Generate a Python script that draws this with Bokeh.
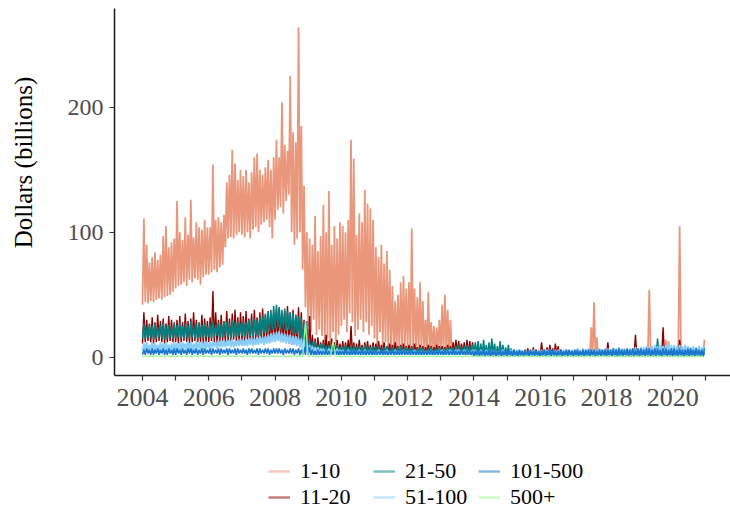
import math
from bokeh.plotting import figure
from bokeh.models import Range1d, FixedTicker, Legend, LegendItem, Label
from bokeh.embed import file_html
from bokeh.resources import INLINE

FONT = "Liberation Serif"
START_YEAR = 2004
NAN = float("nan")

series_names = ["1-10", "11-20", "21-50", "51-100", "101-500", "500+"]
series_colors = ["#E9967A", "#8B0000", "#008080", "#87CEFA", "#1874CD", "#98FB98"]

x_ticks = list(range(2004, 2022))
y_ticks = [0, 100, 200]

# ---- 1-10 : monthly lows / highs (billions), 2004-2020 ----
lo_1_10 = [
    42, 44, 43, 45, 44, 46, 47, 46, 48, 49, 50, 52,
    55, 57, 58, 60, 57, 62, 60, 63, 62, 58, 64, 66,
    66, 68, 70, 68, 72, 74, 88, 95, 96, 95, 98, 100,
    98, 96, 100, 95, 102, 104, 100, 106, 108, 110, 104, 95,
    110, 118, 120, 115, 125, 130, 100, 90, 95, 100, 70, 40,
    25, 20, 30, 18, 22, 17, 10, 15, 8, 20, 12, 18,
    25, 30, 20, 35, 28, 17, 22, 30, 20, 28, 18, 25,
    15, 10, 20, 8, 12, 6, 8, 5, 3, 6, 5, 8,
    6, 5, 8, 5, 4, 6, 5, 4, 5, 4, 3, 4,
    4, 3, 4, 3, 2, 2, 2, 2, 2, 2, 2, 2,
    1, 1, 2, 1, 1, 2, 1, 1, 2, 1, 1, 1,
    1, 2, 1, 1, 1, 1, 2, 1, 1, 1, 2, 1,
    1, 1, 1, 2, 1, 1, 1, 2, 1, 1, 1, 1,
    2, 1, 1, 1, 1, 2, 1, 1, 1, 1, 1, 2,
    1, 1, 2, 1, 1, 1, 1, 2, 1, 1, 1, 1,
    1, 1, 1, 1, 2, 1, 1, 1, 1, 2, 1, 1,
    1, 2, 1, 1, 1, 1, 2, 1, 1, 1, 1, 1,
]
hi_1_10 = [
    111, 90, 76, 80, 84, 78, 82, 97, 105, 88, 92, 95,
    125, 100, 94, 112, 98, 126, 96, 108, 104, 102, 110, 104,
    104, 154, 110, 112, 108, 114, 140, 146, 166, 155, 142, 150,
    145, 150, 140, 148, 160, 163, 150, 146, 152, 158, 150, 160,
    174, 160, 204, 170, 165, 225, 180, 172, 264, 185, 137, 100,
    95, 90, 113, 85, 97, 122, 100, 133, 90, 105, 95, 108,
    105, 100, 110, 174, 159, 98, 115, 108, 134, 123, 119, 110,
    88, 80, 90, 75, 85, 70, 57, 45, 50, 60, 65, 55,
    60, 103, 55, 48, 60, 45, 30, 52, 28, 25, 24, 30,
    42, 50, 38, 30, 12, 8, 6, 10, 8, 5, 6, 5,
    5, 4, 6, 5, 4, 5, 6, 4, 5, 4, 5, 4,
    4, 5, 4, 3, 4, 5, 4, 3, 4, 5, 4, 3,
    4, 3, 4, 5, 4, 3, 4, 4, 3, 4, 5, 4,
    4, 3, 4, 5, 4, 4, 24, 44, 16, 5, 4, 3,
    4, 5, 4, 3, 5, 4, 4, 5, 4, 3, 4, 5,
    4, 5, 4, 54, 5, 4, 5, 4, 5, 14, 13, 5,
    5, 4, 105, 5, 4, 5, 4, 5, 4, 5, 6, 14,
]

# ---- 11-20 : monthly lows / highs ----
lo_11_20 = [
    11, 12, 13, 12, 11, 12, 13, 12, 11, 12, 13, 12,
    12, 11, 12, 13, 12, 11, 12, 13, 12, 12, 11, 12,
    12, 13, 12, 11, 12, 13, 12, 13, 12, 14, 13, 12,
    13, 12, 14, 13, 12, 14, 13, 12, 14, 13, 12, 14,
    14, 13, 15, 12, 12, 11, 10, 10, 9, 8, 6, 3,
    3, 2, 3, 2, 3, 2, 2, 3, 2, 3, 2, 2,
    2, 2, 3, 2, 2, 3, 2, 2, 2, 3, 2, 2,
    2, 3, 2, 2, 2, 3, 2, 2, 3, 2, 2, 2,
    2, 2, 2, 3, 2, 2, 2, 2, 3, 2, 2, 2,
    2, 2, 3, 2, 2, 2, 3, 2, 2, 2, 2, 2,
    1, 1, 1, 2, 1, 1, 1, 1, 2, 1, 1, 1,
    1, 1, 2, 1, 1, 1, 1, 2, 1, 1, 1, 1,
    1, 2, 1, 1, 1, 1, 2, 1, 1, 1, 1, 2,
    1, 1, 1, 1, 2, 1, 1, 1, 1, 2, 1, 1,
    1, 1, 2, 1, 1, 1, 1, 1, 2, 1, 1, 1,
    1, 2, 1, 1, 1, 2, 1, 1, 1, 1, 2, 1,
    1, 1, 1, 2, 1, 1, 1, 1, 1, 2, 1, 1,
]
hi_11_20 = [
    36, 30, 27, 32, 28, 34, 29, 31, 27, 33, 30, 28,
    30, 33, 28, 35, 29, 31, 36, 30, 28, 34, 31, 29,
    32, 53, 36, 30, 34, 29, 37, 31, 35, 38, 32, 36,
    33, 37, 31, 35, 38, 32, 36, 39, 34, 37, 33, 36,
    38, 40, 35, 37, 41, 36, 38, 34, 40, 36, 30, 22,
    33, 18, 15, 16, 12, 14, 18, 13, 15, 12, 14, 11,
    13, 12, 14, 25, 12, 11, 14, 10, 12, 13, 10, 12,
    11, 13, 10, 12, 9, 11, 10, 12, 9, 10, 11, 9,
    10, 9, 11, 8, 10, 9, 8, 10, 9, 8, 10, 9,
    9, 8, 10, 9, 12, 14, 13, 11, 12, 14, 13, 12,
    9, 7, 6, 5, 6, 5, 4, 5, 4, 5, 4, 4,
    4, 5, 4, 3, 4, 5, 4, 7, 5, 8, 6, 5,
    12, 6, 8, 10, 7, 11, 9, 6, 5, 4, 5, 4,
    4, 5, 4, 3, 4, 5, 4, 5, 6, 4, 5, 4,
    12, 5, 4, 5, 6, 5, 4, 6, 5, 7, 18, 6,
    6, 5, 7, 6, 5, 6, 8, 7, 24, 8, 6, 5,
    6, 5, 14, 6, 5, 6, 5, 4, 5, 6, 5, 4,
]

# ---- 21-50 : monthly lows / highs ----
lo_21_50 = [
    15, 14, 15, 16, 14, 15, 16, 15, 14, 15, 16, 15,
    15, 16, 15, 14, 16, 15, 16, 15, 14, 16, 15, 16,
    16, 15, 16, 17, 15, 16, 17, 16, 15, 17, 16, 17,
    17, 16, 18, 17, 16, 18, 17, 18, 19, 20, 21, 22,
    23, 24, 22, 23, 21, 22, 20, 19, 18, 16, 10, 5,
    2, 3, 2, 2, 3, 2, 2, 2, 2, 2, 2, 2,
    2, 2, 2, 2, 2, 2, 2, 2, 2, 2, 2, 2,
    2, 2, 2, 2, 2, 2, 2, 2, 2, 2, 2, 2,
    2, 2, 2, 2, 2, 2, 2, 2, 2, 2, 2, 2,
    2, 2, 2, 2, 2, 2, 2, 2, 2, 2, 2, 2,
    1, 2, 1, 1, 2, 1, 1, 2, 1, 1, 1, 1,
    1, 1, 1, 1, 1, 1, 1, 1, 1, 1, 1, 1,
    1, 1, 1, 1, 1, 1, 1, 1, 1, 1, 1, 1,
    1, 1, 1, 1, 1, 1, 1, 1, 1, 1, 1, 1,
    1, 1, 1, 1, 1, 1, 1, 1, 1, 1, 1, 1,
    1, 1, 1, 1, 1, 1, 1, 1, 1, 1, 1, 1,
    1, 1, 1, 1, 1, 1, 1, 1, 1, 1, 1, 1,
]
hi_21_50 = [
    27, 24, 26, 25, 27, 24, 26, 28, 25, 26, 24, 27,
    26, 28, 25, 27, 26, 29, 25, 27, 28, 26, 27, 25,
    27, 29, 26, 28, 27, 29, 28, 27, 30, 28, 29, 27,
    29, 28, 30, 29, 31, 30, 32, 33, 35, 36, 38, 41,
    42, 40, 38, 39, 37, 36, 35, 34, 33, 31, 26, 16,
    14, 12, 13, 10, 11, 12, 9, 10, 11, 9, 10, 8,
    9, 10, 8, 9, 10, 8, 9, 8, 10, 9, 8, 9,
    8, 9, 7, 8, 9, 7, 8, 7, 8, 9, 7, 8,
    7, 8, 6, 7, 8, 7, 6, 7, 8, 6, 7, 8,
    6, 7, 8, 7, 8, 9, 10, 8, 9, 10, 9, 10,
    12, 13, 11, 14, 10, 12, 15, 11, 9, 13, 10, 8,
    10, 7, 6, 5, 5, 4, 5, 4, 5, 4, 5, 4,
    4, 5, 4, 4, 5, 4, 4, 5, 4, 4, 5, 4,
    4, 4, 5, 4, 4, 5, 4, 4, 5, 4, 4, 5,
    5, 4, 4, 5, 4, 5, 4, 4, 5, 4, 5, 4,
    5, 4, 5, 6, 5, 6, 15, 6, 5, 6, 5, 4,
    5, 4, 5, 4, 5, 4, 5, 4, 4, 5, 4, 4,
]

# ---- 51-100 : monthly lows / highs ----
lo_51_100 = [
    5, 6, 5, 6, 5, 6, 5, 6, 5, 6, 6, 5,
    6, 5, 6, 7, 6, 6, 5, 6, 7, 6, 6, 7,
    7, 7, 8, 7, 8, 8, 8, 9, 8, 8, 9, 9,
    9, 9, 9, 10, 9, 10, 10, 11, 10, 11, 11, 12,
    12, 13, 12, 12, 11, 11, 10, 10, 9, 8, 5, 3,
    2, 2, 2, 2, 2, 2, 2, 2, 2, 2, 2, 2,
    2, 2, 2, 2, 2, 2, 2, 2, 2, 2, 2, 2,
    2, 2, 2, 2, 2, 2, 2, 2, 2, 2, 2, 2,
    2, 2, 2, 2, 2, 2, 2, 2, 2, 2, 2, 2,
    2, 2, 2, 2, 2, 2, 2, 2, 2, 2, 2, 2,
    1, 1, 1, 1, 1, 1, 1, 1, 1, 1, 1, 1,
    1, 1, 1, 1, 1, 1, 1, 1, 1, 1, 1, 1,
    1, 1, 1, 1, 1, 1, 1, 1, 1, 1, 1, 1,
    1, 1, 1, 1, 1, 1, 1, 1, 1, 1, 1, 1,
    1, 1, 1, 1, 1, 1, 1, 1, 1, 1, 1, 1,
    1, 1, 1, 1, 1, 1, 1, 1, 1, 1, 1, 1,
    1, 1, 1, 1, 1, 1, 1, 1, 1, 1, 1, 1,
]
hi_51_100 = [
    11, 12, 10, 12, 11, 10, 12, 11, 12, 10, 11, 12,
    11, 12, 12, 11, 13, 12, 11, 13, 12, 12, 13, 12,
    12, 13, 12, 14, 13, 14, 13, 14, 15, 13, 14, 15,
    14, 15, 15, 16, 15, 16, 17, 16, 17, 18, 19, 20,
    20, 21, 19, 19, 18, 18, 17, 17, 16, 15, 14, 12,
    10, 9, 8, 8, 7, 7, 6, 7, 6, 6, 7, 6,
    6, 5, 6, 5, 6, 5, 6, 5, 6, 5, 6, 5,
    5, 6, 5, 5, 6, 5, 5, 6, 5, 5, 6, 5,
    5, 5, 6, 5, 5, 6, 5, 5, 6, 5, 5, 6,
    6, 5, 6, 6, 5, 6, 6, 5, 6, 6, 5, 6,
    6, 5, 6, 5, 6, 6, 5, 6, 5, 6, 6, 5,
    5, 6, 5, 6, 6, 5, 6, 5, 6, 6, 5, 6,
    6, 5, 6, 6, 5, 6, 6, 5, 6, 6, 5, 6,
    6, 7, 6, 7, 6, 7, 6, 7, 6, 7, 6, 7,
    7, 6, 7, 7, 8, 7, 7, 6, 7, 7, 8, 7,
    8, 8, 9, 8, 9, 10, 9, 10, 9, 10, 11, 10,
    10, 9, 10, 9, 10, 9, 8, 9, 8, 9, 8, 9,
]

# ---- 101-500 : monthly lows / highs ----
lo_101_500 = [
    2, 2, 3, 2, 2, 3, 2, 3, 2, 2, 3, 2,
    2, 3, 2, 3, 2, 3, 2, 3, 2, 3, 2, 3,
    3, 2, 3, 3, 2, 3, 3, 2, 3, 3, 2, 3,
    3, 3, 2, 3, 3, 3, 2, 3, 3, 3, 2, 3,
    3, 3, 3, 2, 3, 3, 3, 2, 3, 2, 2, 2,
    2, 2, 2, 2, 2, 2, 2, 2, 2, 2, 2, 2,
    2, 2, 2, 2, 2, 2, 2, 2, 2, 2, 2, 2,
    2, 2, 2, 2, 2, 2, 2, 2, 2, 2, 2, 2,
    2, 2, 2, 2, 2, 2, 2, 2, 2, 2, 2, 2,
    2, 2, 2, 2, 2, 2, 2, 2, 2, 2, 2, 2,
    1, 1, 1, 1, 1, 1, 1, 1, 1, 1, 1, 1,
    1, 1, 1, 1, 1, 1, 1, 1, 1, 1, 1, 1,
    1, 1, 1, 1, 1, 1, 1, 1, 1, 1, 1, 1,
    1, 1, 1, 1, 1, 1, 1, 1, 1, 1, 1, 1,
    1, 1, 1, 1, 1, 1, 1, 1, 1, 1, 1, 1,
    1, 1, 1, 1, 1, 1, 1, 1, 1, 1, 1, 1,
    1, 1, 1, 1, 1, 1, 1, 1, 1, 1, 1, 1,
]
hi_101_500 = [
    6, 7, 6, 7, 6, 7, 6, 7, 6, 7, 6, 7,
    7, 6, 7, 6, 7, 7, 6, 7, 6, 7, 7, 6,
    7, 7, 6, 7, 7, 6, 7, 7, 6, 7, 7, 6,
    7, 6, 7, 7, 6, 7, 7, 6, 7, 7, 6, 7,
    7, 7, 6, 7, 6, 7, 7, 6, 7, 6, 8, 29,
    8, 6, 5, 6, 5, 5, 6, 5, 5, 6, 5, 5,
    5, 6, 5, 5, 6, 5, 5, 6, 5, 5, 6, 5,
    5, 5, 6, 5, 5, 5, 6, 5, 5, 5, 6, 5,
    5, 6, 5, 5, 5, 6, 5, 5, 6, 5, 5, 6,
    5, 5, 6, 5, 6, 5, 5, 6, 5, 6, 5, 5,
    5, 6, 5, 6, 5, 6, 5, 6, 5, 6, 5, 6,
    6, 5, 6, 5, 6, 5, 6, 5, 6, 5, 6, 5,
    5, 6, 5, 6, 6, 5, 5, 6, 5, 6, 6, 5,
    6, 6, 5, 6, 6, 6, 6, 6, 5, 6, 6, 6,
    6, 6, 7, 6, 7, 6, 6, 7, 6, 7, 6, 7,
    7, 6, 7, 7, 6, 7, 7, 6, 7, 7, 6, 7,
    7, 6, 7, 6, 6, 7, 7, 6, 7, 6, 6, 7,
]

# ---- 500+ : bimonthly lows / highs ----
lo_500 = [
    0.3, 0.4, 0.3, 0.4, 0.3, 0.4,
    0.3, 0.4, 0.3, 0.4, 0.3, 0.4,
    0.3, 0.4, 0.3, 0.4, 0.3, 0.4,
    0.3, 0.4, 0.3, 0.4, 0.3, 0.4,
    0.3, 0.4, 0.3, 0.4, 0.3, 0.4,
    0.3, 0.4, 0.3, 0.4, 0.3, 0.4,
    0.3, 0.4, 0.3, 0.4, 0.3, 0.4,
    0.3, 0.4, 0.3, 0.4, 0.3, 0.4,
    0.3, 0.4, 0.3, 0.4, 0.3, 0.4,
    0.3, 0.4, 0.3, 0.4, 0.3, 0.4,
    0.3, 0.4, 0.3, 0.4, 0.3, 0.4,
    0.3, 0.4, 0.3, 0.4, 0.3, 0.4,
    0.3, 0.4, 0.3, 0.4, 0.3, 0.4,
    0.3, 0.4, 0.3, 0.4, 0.3, 0.4,
    0.3, 0.4, 0.3, 0.4, 0.3, 0.4,
    0.3, 0.4, 0.3, 0.4, 0.3, 0.4,
    0.3, 0.4, 0.3, 0.4, 0.3, 0.4,
]
hi_500 = [
    1.2, 1.0, 1.3, 1.1, 1.2, 1.0,
    1.1, 1.3, 1.0, 1.2, 1.1, 1.2,
    1.0, 1.2, 1.1, 1.3, 1.0, 1.2,
    1.2, 1.1, 1.3, 1.0, 1.2, 1.1,
    1.1, 1.2, 1.0, 1.3, 1.1, 29,
    1.2, 1.0, 1.1, 1.2, 13, 1.1,
    1.0, 1.2, 1.1, 1.0, 1.2, 1.1,
    1.2, 1.0, 1.1, 1.2, 1.0, 1.1,
    1.1, 1.2, 1.0, 1.1, 1.2, 1.0,
    1.0, 1.1, 1.2, 1.0, 1.1, 1.2,
    1.2, 1.0, 1.1, 1.2, 1.0, 1.1,
    1.1, 1.2, 1.0, 1.1, 1.2, 1.0,
    1.0, 1.1, 1.2, 1.0, 1.1, 1.2,
    1.2, 1.0, 1.1, 1.2, 1.0, 1.1,
    1.1, 1.2, 1.0, 1.1, 1.2, 1.0,
    1.0, 1.1, 1.2, 1.0, 1.1, 1.2,
    1.2, 1.0, 1.1, 1.2, 1.0, 1.1,
]

series_lo = [lo_1_10, lo_11_20, lo_21_50, lo_51_100, lo_101_500, lo_500]
series_hi = [hi_1_10, hi_11_20, hi_21_50, hi_51_100, hi_101_500, hi_500]
series_per_year = [12, 12, 12, 12, 12, 6]
series_widths = [1.8, 1.4, 1.5, 1.8, 1.5, 1.3]

# The frame covers the whole canvas; axes sit at fixed data positions inside it,
# leaving room on the left for tick labels / title and at the bottom for the legend.
W, H = 730, 509
X_START, X_END = 1999.715, 2021.743
Y_TOP, Y_BOTTOM = 285.4, -121.8
AXIS_X = 2003.155      # where the y axis stands
AXIS_Y = -14.6         # where the x axis stands
AXIS_Y_TOP = 279.0     # top end of the y axis line


def zigzag(lo, hi, per_year):
    xs, ys = [], []
    for i, (a, b) in enumerate(zip(lo, hi)):
        xs += [START_YEAR + i / per_year, START_YEAR + (i + 0.5) / per_year]
        ys += [a, b]
    return xs, ys


p = figure(
    width=W, height=H, output_backend="svg", toolbar_location=None,
    x_range=Range1d(X_START, X_END), y_range=Range1d(Y_BOTTOM, Y_TOP),
    min_border_left=0, min_border_right=0, min_border_top=0, min_border_bottom=0,
)
p.outline_line_color = None
p.grid.visible = False
p.background_fill_color = "white"
p.border_fill_color = "white"

for lo, hi, per_year, color, lw in zip(series_lo, series_hi, series_per_year, series_colors, series_widths):
    xs, ys = zigzag(lo, hi, per_year)
    p.line(xs, ys, line_color=color, line_width=lw)

# axis lines (x axis from the y axis to the right edge, y axis from the x axis up)
p.segment(x0=[AXIS_X, AXIS_X], y0=[AXIS_Y, AXIS_Y], x1=[X_END, AXIS_X], y1=[AXIS_Y, AXIS_Y_TOP],
          line_color="#1a1a1a", line_width=1.5)

for ax in (p.xaxis[0], p.yaxis[0]):
    ax.axis_line_color = None
    ax.major_tick_line_color = "#333333"
    ax.major_tick_line_width = 1.2
    ax.major_tick_out = 5
    ax.major_tick_in = 0
    ax.minor_tick_line_color = None
    ax.major_label_text_font = FONT
    ax.major_label_text_color = "#4D4D4D"

xa = p.xaxis[0]
xa.fixed_location = AXIS_Y
xa.ticker = FixedTicker(ticks=x_ticks)
xa.major_label_overrides = {t: (str(t) if t % 2 == 0 else "") for t in x_ticks}
xa.major_label_text_font_size = "26px"
xa.major_label_standoff = 8

ya = p.yaxis[0]
ya.fixed_location = AXIS_X
ya.ticker = FixedTicker(ticks=y_ticks)
ya.major_label_text_font_size = "24px"
ya.major_label_standoff = 6

p.add_layout(Label(
    x=23, y=H - 162, x_units="screen", y_units="screen", text="Dollars (billions)",
    angle=math.pi / 2, text_align="center", text_baseline="middle",
    text_font=FONT, text_font_size="25px", text_color="black",
))

# legend: 3 columns x 2 rows in the strip under the x axis
dummy = [p.line([NAN], [NAN], line_color=c, line_alpha=0.5, line_width=2.5) for c in series_colors]
legend = Legend(
    items=[LegendItem(label=n, renderers=[r]) for n, r in zip(series_names, dummy)],
    location=(268, -1), orientation="vertical", nrows=2,
    padding=0, margin=0, spacing=0, label_standoff=10, label_width=73,
    glyph_width=22, glyph_height=24, label_height=24,
    label_text_font=FONT, label_text_font_size="22px", label_text_color="black",
    border_line_color=None, background_fill_alpha=0,
)
p.add_layout(legend, "center")

open("out.html", "w").write(file_html(p, INLINE))
